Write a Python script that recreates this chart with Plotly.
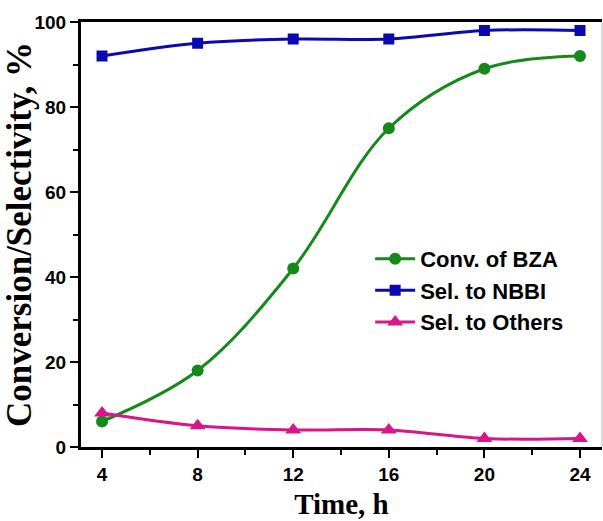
import plotly.graph_objects as go

time_h = [4, 8, 12, 16, 20, 24]
conv_bza = [6, 18, 42, 75, 89, 92]
sel_nbbi = [92, 95, 96, 96, 98, 98]
sel_others = [8, 5, 4, 4, 2, 2]

fig = go.Figure()
fig.add_trace(go.Scatter(x=time_h, y=conv_bza, name="Conv. of BZA", mode="lines+markers",
                         line=dict(color="#158a1a", width=3, shape="spline"),
                         marker=dict(symbol="circle", size=12, color="#158a1a")))
fig.add_trace(go.Scatter(x=time_h, y=sel_nbbi, name="Sel. to NBBI", mode="lines+markers",
                         line=dict(color="#0a0ab0", width=3, shape="spline"),
                         marker=dict(symbol="square", size=11, color="#0a0ab0")))
fig.add_trace(go.Scatter(x=time_h, y=sel_others, name="Sel. to Others", mode="lines+markers",
                         line=dict(color="#d8168a", width=3, shape="spline"),
                         marker=dict(symbol="triangle-up", size=14, color="#d8168a")))

fig.update_layout(
    width=603, height=521,
    margin=dict(l=81, r=1, t=22, b=74),
    paper_bgcolor="white", plot_bgcolor="white",
    showlegend=True,
    legend=dict(x=0.555, y=0.492, xanchor="left", yanchor="top",
                font=dict(family="Arial, Liberation Sans", size=22, color="black", weight="bold"),
                bgcolor="rgba(0,0,0,0)", tracegroupgap=0, itemwidth=40),
    xaxis=dict(range=[3.12, 24.92], tickvals=time_h, ticks="outside", ticklen=8, tickwidth=2,
               tickcolor="black", showline=True, linewidth=3, linecolor="black", mirror=True,
               showgrid=False, zeroline=False, automargin=False,
               minor=dict(tickvals=[6, 10, 14, 18, 22], ticks="outside", ticklen=5, tickwidth=2, tickcolor="black"),
               tickfont=dict(family="Arial, Liberation Sans", size=19, color="black", weight="bold"),
               title=dict(text="<b>Time, h</b>", font=dict(family="Times New Roman, Liberation Serif", size=29, color="black"), standoff=10)),
    yaxis=dict(range=[0, 100], tickvals=[0, 20, 40, 60, 80, 100], ticks="outside", ticklen=8, tickwidth=2,
               tickcolor="black", showline=True, linewidth=3, linecolor="black",
               showgrid=False, zeroline=False, automargin=False,
               minor=dict(tickvals=[10, 30, 50, 70, 90], ticks="outside", ticklen=5, tickwidth=2, tickcolor="black"),
               tickfont=dict(family="Arial, Liberation Sans", size=19, color="black", weight="bold"),
               title=dict(text="<b>Conversion/Selectivity, %</b>", font=dict(family="Times New Roman, Liberation Serif", size=35, color="black"), standoff=9)),
)
fig.add_shape(type="line", xref="paper", yref="paper", x0=1, x1=1, y0=0, y1=1,
              line=dict(color="#bbbbbb", width=1))

fig.write_html("out.html", config={"displayModeBar": False},
               post_script="document.body.style.margin='0';document.body.style.overflow='hidden';")
